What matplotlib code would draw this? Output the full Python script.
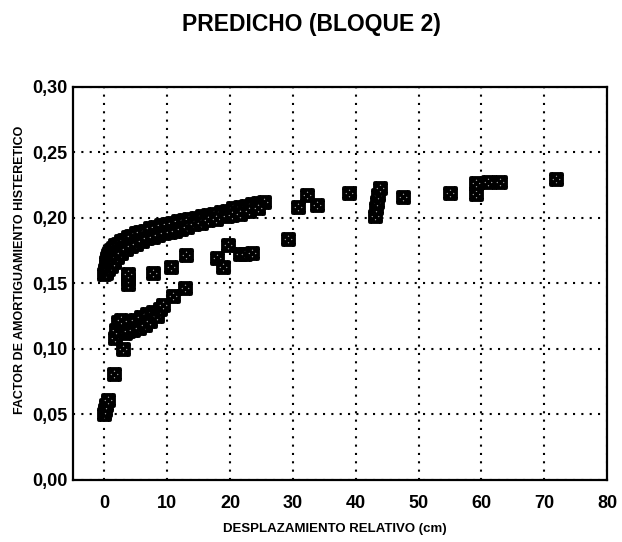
import matplotlib
matplotlib.use("Agg")
import matplotlib.pyplot as plt
from matplotlib.path import Path
from matplotlib.font_manager import FontProperties

# Upper branch (dense band of predicted values)
upper_x = [0.0, 0.1, 0.2, 0.3, 0.4, 0.6, 0.8, 1.0, 1.3, 1.7, 2.1, 2.6, 3.1, 3.7,
           4.3, 5.0, 5.7, 6.5, 7.3, 8.1, 9.0, 9.9, 10.8, 11.7, 12.6, 13.5, 14.5,
           15.5, 16.5, 17.5, 18.5, 19.5, 20.5, 21.5, 22.5, 23.5, 24.5, 25.4]
upper_y = [0.157, 0.160, 0.163, 0.166, 0.169, 0.171, 0.173, 0.175, 0.177, 0.179,
           0.180, 0.182, 0.183, 0.185, 0.186, 0.188, 0.189, 0.190, 0.192, 0.193,
           0.194, 0.195, 0.196, 0.197, 0.198, 0.199, 0.200, 0.201, 0.202, 0.203,
           0.204, 0.205, 0.207, 0.208, 0.209, 0.210, 0.211, 0.212]

upper2_x = [0.3, 0.6, 1.0, 1.5, 2.0, 2.7, 3.4, 4.2, 5.0, 5.9, 6.8, 7.7, 8.6, 9.5,
            10.4, 11.3, 12.2, 13.2, 14.2, 15.3, 16.5, 17.7, 19.5, 20.3, 21.5,
            23.0, 24.5]
upper2_y = [0.158, 0.161, 0.163, 0.166, 0.170, 0.173, 0.176, 0.178, 0.180, 0.182,
            0.184, 0.185, 0.187, 0.188, 0.189, 0.190, 0.191, 0.193, 0.195, 0.196,
            0.198, 0.199, 0.201, 0.202, 0.203, 0.205, 0.207]

# Lower branch
lower_x = [-0.1, 0.1, 0.3, 0.6, 1.6, 3.0, 1.7, 1.9, 2.1, 2.6, 3.2, 3.8, 3.9, 4.6,
           4.8, 5.5, 5.8, 6.4, 6.8, 7.3, 7.8, 8.3, 8.8, 9.4, 10.9, 12.9,
           3.8, 3.8, 3.8]
lower_y = [0.050, 0.053, 0.057, 0.061, 0.0805, 0.100, 0.108, 0.114, 0.120, 0.122,
           0.112, 0.113, 0.121, 0.114, 0.122, 0.116, 0.124, 0.118, 0.126, 0.121,
           0.128, 0.125, 0.130, 0.133, 0.140, 0.146,
           0.149, 0.153, 0.157]

# Isolated points
scatter_x = [7.8, 10.6, 13.0, 17.9, 18.9, 19.6, 21.5, 22.3, 23.5, 29.2, 30.8,
             32.2, 33.8, 39.0, 43.0, 43.2, 43.4, 43.6, 43.8, 47.5, 55.0, 59.2,
             59.2, 61.0, 62.9, 71.9]
scatter_y = [0.158, 0.162, 0.171, 0.169, 0.162, 0.179, 0.172, 0.172, 0.173,
             0.1835, 0.208, 0.217, 0.2095, 0.219, 0.201, 0.207, 0.212, 0.217,
             0.2225, 0.2155, 0.219, 0.218, 0.226, 0.227, 0.227, 0.2295]

x_ticks = [0, 10, 20, 30, 40, 50, 60, 70, 80]
y_ticks = [0.00, 0.05, 0.10, 0.15, 0.20, 0.25, 0.30]
y_tick_labels = ["0,00", "0,05", "0,10", "0,15", "0,20", "0,25", "0,30"]

# Boxed-cross marker
box_cross = Path(
    [(-1, -1), (1, -1), (1, 1), (-1, 1), (-1, -1),
     (-1, -1), (1, 1), (-1, 1), (1, -1)],
    [Path.MOVETO, Path.LINETO, Path.LINETO, Path.LINETO, Path.CLOSEPOLY,
     Path.MOVETO, Path.LINETO, Path.MOVETO, Path.LINETO])

fig = plt.figure(figsize=(6.22, 5.42), dpi=100)
ax = fig.add_axes([0.1174, 0.1153, 0.8586, 0.7251])

style = dict(ls="none", marker=box_cross, ms=8, mew=2.7,
             mfc="white", mec="black", zorder=3)
for xs, ys in [(upper_x, upper_y), (upper2_x, upper2_y),
               (lower_x, lower_y), (scatter_x, scatter_y)]:
    ax.plot(xs, ys, **style)

ax.set_xlim(-5, 80)
ax.set_ylim(0, 0.30)
ax.set_xticks(x_ticks)
ax.set_yticks(y_ticks)
ax.set_yticklabels(y_tick_labels)

tick_font = FontProperties(family="Liberation Sans", weight="bold", size=13)
for lbl in ax.get_xticklabels() + ax.get_yticklabels():
    lbl.set_fontproperties(tick_font)

ax.tick_params(axis="both", length=0)
ax.tick_params(axis="x", pad=11)
ax.tick_params(axis="y", pad=4)

ax.grid(True, color="black", linestyle=(0, (1, 3)), linewidth=1.5, zorder=1)
ax.set_axisbelow(True)
for sp in ax.spines.values():
    sp.set_linewidth(1.6)
    sp.set_color("black")

fig.text(0.5, 1 - 25 / 542, "PREDICHO (BLOQUE 2)", ha="center", va="center",
         family="Liberation Sans", weight="bold", size=16.5)
fig.text(335 / 622, 1 - 529 / 542, "DESPLAZAMIENTO RELATIVO (cm)", ha="center",
         va="center", family="Liberation Sans", weight="bold", size=9.5)
fig.text(20 / 622, 1 - 270 / 542, "FACTOR DE AMORTIGUAMIENTO HISTERETICO",
         ha="center", va="center", rotation=90, family="Liberation Sans",
         weight="bold", size=9)

fig.savefig("out.png", dpi=100, facecolor="white")
